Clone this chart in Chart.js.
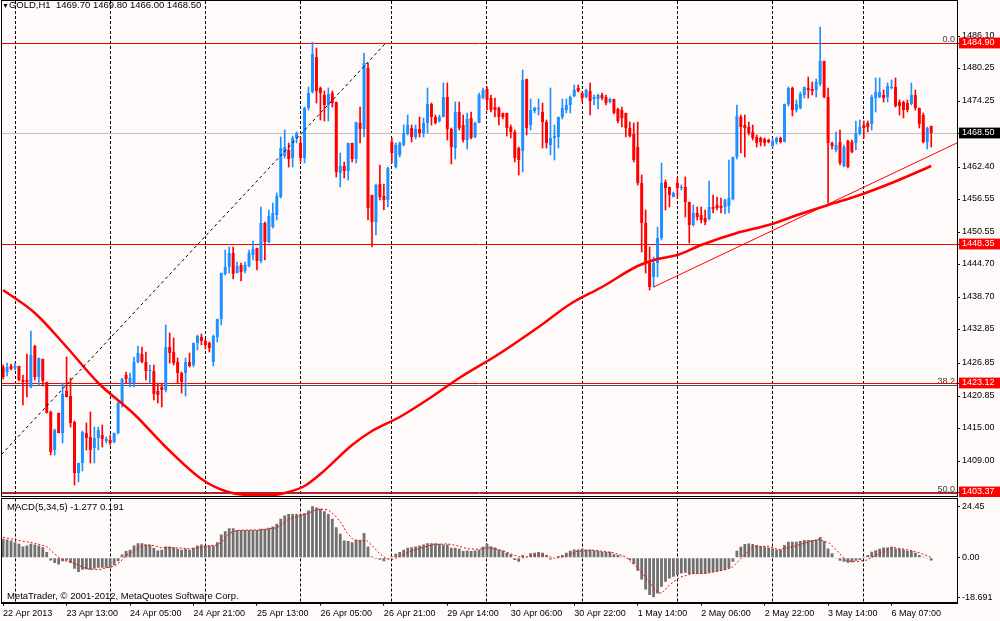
<!DOCTYPE html>
<html>
<head>
<meta charset="utf-8">
<title>GOLD,H1</title>
<script src="https://cdn.jsdelivr.net/npm/chart.js@4.4.1/dist/chart.umd.min.js"></script>
<style>
  html, body { margin: 0; padding: 0; background: #fffafa; }
  #wrap { position: relative; width: 1000px; height: 621px; overflow: hidden; background: #fffafa;
          font-family: 'Liberation Sans', Arial, sans-serif; font-size: 9.5px; color: #000; }
  #mainBox { position: absolute; left: 0; top: 0; width: 1000px; height: 497px; }
  #macdBox { position: absolute; left: 0; top: 497px; width: 1000px; height: 124px; }
  .lbl { position: absolute; white-space: nowrap; line-height: 10px; }
</style>
</head>
<body>
<div id="wrap">
  <div id="mainBox"><canvas id="mainChart"></canvas></div>
  <div id="macdBox"><canvas id="macdChart"></canvas></div>
  <div class="lbl" style="left:2px;top:0px;"><span style="font-size:7px">&#9660;</span>GOLD,H1&nbsp; 1469.70 1469.80 1466.00 1468.50</div>
  <div class="lbl" style="left:7px;top:502px;">MACD(5,34,5) -1.277 0.191</div>
  <div class="lbl" style="left:7px;top:591px;">MetaTrader, &copy; 2001-2012, MetaQuotes Software Corp.</div>
</div>
<script>
// hourly candles, bar 0 = 22 Apr 21:00
const opens = [
  1425.98,1425.20,1426.23,1425.80,1426.23,1423.69,1423.60,1422.47,1429.90,1424.29,
  1427.44,1423.38,1417.94,1410.98,1417.63,1414.13,1421.75,1420.78,1416.12,1406.87,
  1408.56,1414.13,1413.28,1411.28,1413.10,1413.70,1412.68,1412.80,1412.49,1414.01,
  1419.45,1424.59,1423.20,1423.08,1427.01,1428.40,1427.01,1425.38,1425.38,1421.75,
  1422.47,1421.87,1429.61,1428.83,1427.01,1425.02,1424.89,1427.01,1426.41,1430.34,
  1431.42,1430.75,1430.33,1427.00,1431.54,1434.69,1442.92,1444.12,1446.79,1443.16,
  1444.55,1443.52,1444.37,1446.36,1447.57,1445.33,1452.23,1448.78,1451.51,1453.62,
  1456.95,1464.33,1465.42,1463.91,1467.54,1466.63,1463.91,1472.98,1476.01,1482.24,
  1476.61,1475.40,1473.59,1475.70,1474.19,1461.31,1462.52,1461.67,1466.63,1463.73,
  1470.26,1469.17,1480.24,1457.25,1452.41,1459.20,1457.10,1456.35,1466.94,1462.40,
  1464.52,1466.33,1468.33,1469.36,1467.72,1469.18,1468.57,1470.39,1473.77,1471.47,
  1470.75,1471.47,1475.10,1469.18,1465.73,1472.38,1469.96,1467.24,1471.17,1467.72,
  1470.39,1474.80,1476.44,1474.80,1473.29,1472.99,1472.08,1472.08,1469.66,1468.75,
  1465.73,1465.30,1478.25,1469.96,1472.56,1472.81,1472.38,1470.57,1466.33,1467.54,
  1467.72,1471.35,1472.69,1473.59,1475.22,1476.62,1475.71,1474.98,1476.19,1474.62,
  1474.62,1475.41,1474.98,1474.20,1474.62,1472.81,1472.69,1472.08,1469.36,1468.33,
  1465.91,1459.50,1452.12,1444.86,1442.43,1444.86,1449.39,1459.68,1458.77,1456.96,
  1459.37,1458.47,1458.77,1456.05,1451.81,1454.05,1453.63,1453.02,1452.84,1455.14,
  1455.44,1455.26,1455.14,1455.26,1456.47,1464.22,1471.47,1469.96,1469.66,1468.75,
  1467.72,1467.54,1467.36,1467.24,1466.21,1466.82,1467.54,1466.94,1473.72,1476.74,
  1472.69,1473.11,1475.41,1476.74,1476.50,1476.32,1477.35,1481.58,1475.11,1466.64,
  1465.43,1466.82,1462.58,1467.06,1466.82,1466.64,1468.27,1469.96,1470.27,1470.09,
  1474.93,1475.11,1475.41,1475.11,1476.74,1476.92,1474.08,1474.08,1473.90,1473.72,
  1475.41,1473.00,1471.78,1466.94,1469.70
];
const highs = [
  1426.40,1426.83,1426.60,1426.83,1426.30,1424.59,1428.40,1432.64,1430.04,1427.70,
  1427.50,1423.40,1418.00,1414.70,1417.70,1423.08,1427.92,1423.99,1416.20,1408.60,
  1414.40,1415.82,1417.94,1415.21,1415.21,1415.52,1413.40,1413.70,1414.10,1419.60,
  1423.99,1425.20,1424.89,1427.92,1429.86,1429.74,1428.83,1426.41,1426.41,1423.08,
  1423.08,1433.67,1432.15,1431.25,1427.62,1425.20,1427.62,1428.52,1430.34,1431.85,
  1432.02,1431.20,1430.60,1431.80,1434.80,1443.16,1447.27,1447.88,1447.88,1445.15,
  1444.85,1445.15,1447.27,1448.96,1447.60,1455.13,1452.30,1454.53,1455.74,1457.56,
  1467.84,1469.05,1466.63,1467.96,1468.75,1467.84,1473.29,1476.92,1485.08,1483.87,
  1476.92,1476.19,1476.61,1476.19,1474.20,1464.82,1463.30,1466.75,1466.75,1470.56,
  1473.29,1482.97,1481.15,1457.30,1459.25,1462.70,1459.25,1462.39,1467.54,1466.64,
  1466.94,1469.96,1471.78,1469.96,1469.96,1471.35,1471.17,1476.62,1473.89,1471.78,
  1471.78,1477.65,1477.65,1469.36,1474.20,1474.20,1471.78,1472.08,1472.38,1470.57,
  1475.71,1476.62,1476.92,1475.41,1474.80,1473.29,1472.20,1472.20,1469.96,1469.06,
  1465.91,1479.95,1478.25,1474.62,1473.29,1474.62,1474.02,1470.87,1476.62,1469.96,
  1471.35,1474.62,1474.62,1475.22,1477.22,1477.22,1476.00,1476.44,1477.65,1475.41,
  1475.59,1475.71,1475.41,1474.80,1474.62,1472.99,1473.29,1472.08,1470.57,1470.27,
  1470.57,1460.89,1454.54,1447.88,1446.06,1451.51,1463.13,1459.98,1458.77,1457.86,
  1460.28,1459.07,1460.46,1456.05,1455.44,1455.14,1455.14,1454.54,1459.86,1457.26,
  1456.96,1456.65,1456.47,1463.61,1464.22,1473.59,1471.78,1471.78,1470.57,1469.96,
  1468.15,1467.72,1467.54,1467.36,1467.54,1467.85,1467.85,1473.72,1476.92,1476.92,
  1474.50,1475.89,1476.92,1478.74,1477.83,1478.31,1487.81,1481.58,1476.74,1466.94,
  1468.76,1469.06,1466.34,1467.24,1467.24,1470.69,1470.87,1470.69,1470.69,1475.41,
  1478.56,1478.44,1476.32,1477.53,1478.13,1478.56,1474.50,1474.32,1474.50,1477.53,
  1476.32,1473.00,1472.08,1469.66,1469.80
];
const lows = [
  1423.90,1424.41,1425.50,1425.50,1423.50,1419.15,1420.66,1422.30,1423.69,1422.78,
  1422.60,1417.63,1410.07,1410.07,1414.00,1412.31,1420.60,1415.20,1404.63,1405.23,
  1407.23,1410.98,1408.56,1408.68,1410.98,1411.59,1412.19,1411.89,1412.31,1413.88,
  1418.85,1423.08,1422.47,1422.35,1426.71,1426.71,1423.69,1423.08,1420.06,1419.45,
  1418.85,1421.57,1426.71,1426.41,1423.20,1421.39,1420.78,1426.11,1426.11,1429.13,
  1430.03,1429.40,1428.80,1426.30,1430.60,1433.66,1442.74,1443.04,1441.95,1443.04,
  1441.70,1443.04,1444.25,1445.45,1443.64,1444.85,1445.45,1448.48,1451.20,1452.72,
  1456.65,1463.91,1462.39,1462.39,1466.63,1463.30,1463.12,1472.68,1475.70,1473.89,
  1470.87,1470.74,1470.74,1473.29,1460.58,1458.77,1460.28,1459.98,1463.30,1463.00,
  1466.63,1467.84,1452.72,1447.88,1449.99,1456.35,1454.50,1455.14,1463.00,1462.10,
  1464.22,1466.15,1468.15,1466.94,1467.36,1467.72,1467.72,1468.57,1469.96,1470.14,
  1470.57,1471.35,1467.24,1462.88,1463.73,1469.06,1466.94,1465.55,1467.36,1467.54,
  1470.27,1474.62,1472.69,1472.38,1471.47,1469.96,1471.00,1467.97,1467.54,1463.31,
  1460.89,1461.49,1468.15,1469.06,1472.08,1471.78,1465.73,1465.73,1464.52,1463.61,
  1465.73,1470.99,1472.08,1472.08,1474.98,1476.00,1474.20,1474.80,1471.78,1473.59,
  1472.81,1474.50,1473.59,1473.90,1471.96,1470.27,1469.66,1467.72,1467.72,1463.31,
  1459.07,1446.97,1443.04,1440.01,1440.62,1442.43,1449.09,1454.54,1455.14,1456.83,
  1456.65,1458.17,1453.33,1448.49,1451.63,1452.72,1452.12,1451.81,1452.72,1453.93,
  1454.54,1453.93,1453.81,1454.05,1456.35,1463.73,1464.94,1464.22,1468.15,1467.24,
  1466.03,1466.15,1466.15,1466.64,1465.85,1466.45,1466.64,1466.82,1473.47,1471.66,
  1472.38,1472.87,1474.80,1474.80,1475.41,1475.11,1477.10,1474.80,1455.75,1465.61,
  1465.13,1462.71,1462.40,1462.10,1464.82,1465.43,1468.15,1467.67,1468.76,1469.06,
  1472.39,1474.80,1474.08,1474.08,1476.50,1473.29,1471.78,1471.18,1472.39,1473.60,
  1472.69,1469.36,1466.64,1465.61,1466.00
];
const closes = [
  1424.17,1425.98,1425.74,1426.23,1423.69,1423.38,1423.30,1428.22,1424.17,1427.62,
  1423.50,1417.76,1410.68,1414.61,1414.13,1421.14,1420.66,1415.94,1406.87,1408.56,
  1414.31,1413.10,1410.98,1413.10,1414.61,1412.92,1412.92,1412.31,1414.01,1419.57,
  1423.81,1423.81,1423.99,1427.01,1428.52,1427.01,1425.38,1425.50,1421.14,1420.96,
  1421.87,1429.74,1428.52,1426.71,1424.89,1423.38,1427.01,1426.23,1430.34,1431.67,
  1430.81,1430.03,1429.42,1431.66,1434.69,1443.04,1444.12,1446.66,1442.92,1444.37,
  1443.34,1444.55,1446.79,1447.39,1445.33,1452.11,1448.78,1453.44,1454.05,1457.07,
  1465.72,1466.02,1463.73,1467.54,1468.44,1463.91,1472.98,1475.70,1482.84,1476.19,
  1475.70,1473.59,1475.58,1473.89,1461.49,1462.52,1461.67,1466.63,1463.73,1470.56,
  1469.17,1481.15,1454.83,1452.41,1459.07,1456.95,1456.35,1462.09,1464.82,1466.33,
  1466.64,1468.45,1469.96,1467.85,1469.24,1468.45,1470.39,1473.77,1471.47,1470.27,
  1471.47,1475.10,1469.18,1465.91,1472.38,1469.36,1467.24,1470.99,1467.54,1470.39,
  1475.41,1476.31,1474.50,1472.69,1472.69,1471.35,1471.35,1469.36,1468.75,1463.91,
  1463.61,1478.13,1469.36,1472.69,1472.99,1473.11,1470.57,1466.64,1467.54,1467.97,
  1471.35,1472.99,1473.59,1474.98,1476.31,1476.19,1474.80,1476.31,1474.38,1475.10,
  1475.41,1474.80,1473.89,1474.62,1472.20,1470.75,1471.17,1469.36,1467.97,1463.61,
  1459.37,1452.12,1444.86,1440.62,1444.86,1449.39,1459.37,1458.47,1457.26,1457.56,
  1458.47,1458.77,1456.05,1451.81,1454.05,1453.33,1452.72,1452.42,1455.14,1454.66,
  1454.84,1454.96,1456.35,1456.65,1464.22,1471.60,1469.66,1469.36,1468.57,1467.54,
  1466.76,1466.94,1466.76,1466.94,1467.06,1467.66,1466.82,1473.72,1476.74,1472.69,
  1473.72,1475.53,1476.92,1476.32,1476.10,1477.83,1481.58,1475.11,1466.64,1466.21,
  1466.34,1463.01,1466.03,1462.40,1465.00,1468.45,1469.66,1469.48,1469.66,1475.11,
  1475.89,1475.89,1474.80,1477.10,1476.92,1473.47,1473.47,1472.69,1472.69,1475.41,
  1473.00,1470.09,1466.94,1469.48,1468.50
];

// MACD(5,34,5) histogram, one value per bar
const macdHist = [
  9.0,8.7,8.2,7.4,6.6,5.4,5.8,6.6,6.3,5.8,
  5.0,2.7,-1.3,-2.5,-3.2,-1.6,-1.3,-2.5,-5.2,-6.8,
  -5.7,-5.4,-5.7,-5.2,-4.7,-4.7,-4.7,-4.7,-3.6,-1.6,
  1.6,3.2,3.8,5.8,6.9,6.9,6.3,6.2,4.7,3.5,
  3.8,5.4,5.4,5.0,4.3,3.8,4.3,3.8,4.7,5.8,
  6.3,5.8,5.8,5.8,7.4,11.0,12.6,14.0,14.0,13.2,
  13.2,13.2,13.2,13.2,13.2,13.7,13.7,14.2,14.8,16.1,
  18.5,20.0,20.8,20.8,20.8,20.5,21.1,22.4,24.45,23.8,
  23.2,22.1,20.8,18.5,14.5,11.4,8.2,7.9,7.4,8.5,
  8.5,11.7,5.4,0.6,-0.5,-0.9,-1.6,-0.5,0.6,1.9,
  2.7,3.8,4.7,5.0,5.4,5.8,6.3,6.9,6.9,6.9,
  6.6,6.3,6.3,4.7,4.7,4.3,3.2,3.5,3.2,3.5,
  3.8,5.2,6.8,5.5,4.9,3.9,3.3,2.4,1.7,-1.1,
  -1.9,1.3,0.5,2.1,2.4,2.7,2.4,1.3,-0.8,0.2,
  0.8,1.3,2.4,3.3,3.9,3.9,4.3,3.9,3.9,3.6,
  3.3,2.8,2.8,2.8,1.7,1.3,0.5,-0.3,-1.1,-3.0,
  -6.2,-10.3,-15.0,-17.6,-18.691,-16.9,-13.7,-11.4,-9.8,-9.0,
  -8.2,-7.4,-7.1,-7.7,-7.7,-7.7,-7.7,-7.4,-7.1,-6.8,
  -6.5,-6.3,-5.8,-5.0,-1.9,3.3,5.2,6.5,6.8,6.5,
  6.0,5.5,5.2,4.9,4.4,3.9,3.9,6.0,7.6,7.6,
  7.6,8.0,8.4,8.4,8.4,8.7,9.9,8.0,4.4,2.1,
  -0.3,-1.4,-1.9,-2.4,-2.1,-1.4,-1.1,0.5,1.3,2.8,
  3.6,4.3,4.9,4.9,5.2,4.4,4.3,3.9,3.3,3.3,
  2.4,1.3,0.5,-0.3,-1.277
];

// MACD signal line, read at these bars
const signalIdx = [0,4,8,11,13,15,17,19,21,24,26,28,29.5,31,33,34.5,36,38,40,44,
  47,50,52,54,55.5,57,59,62,65,67,69,70.5,72,75,76.5,78.5,80,82,83.7,85.4,
  86.6,88.3,90,91.7,93,95,96.7,98,99.6,101.3,103.4,106,108.5,112,114.3,117,120,122,124,126.5,
  128.6,131,134.5,136.5,139,142,144.6,148.8,153.8,157,159.7,162,164.8,166,168,170.6,174,177.4,182.4,184,
  186.5,189,193,195.6,199,204,205.9,208.4,210.9,212.6,215,217.7,221,224.4,227.8,231,234];
const signalVal = [9.8,8.2,6.9,5.3,1.8,-1.2,-2.0,-3.5,-5.2,-5.7,-4.8,-4.0,-2.0,1.0,3.5,5.0,6.2,5.8,4.7,4.7,
  4.3,4.8,5.8,6.0,8.2,11.5,13.0,13.2,13.2,13.7,14.2,16.1,18.3,20.0,20.8,22.4,23.2,22.7,20.0,16.1,
  12.1,8.5,7.9,8.2,5.8,1.9,-0.5,-0.9,0.3,1.9,3.5,5.0,6.3,6.6,5.8,4.3,4.0,4.8,4.3,3.0,
  1.3,0.0,1.3,1.4,-0.3,0.8,3.0,3.6,2.4,0.5,-4.3,-9.3,-16.0,-16.9,-12.9,-9.3,-7.4,-7.4,-5.5,-4.3,
  0.5,5.2,5.5,3.9,5.2,8.0,8.7,6.8,2.1,-1.4,-1.9,-1.1,2.1,4.9,3.9,2.4,0.191];

// moving average (thick red), read at these bars
const maIdx = [0,8,16,24,33,41,50,56,62,68,72,76,80,88,93,100,108,115,125,135,
  143,151,160,165,170,176,185,193,201,208,216,224,234];
const maVal = [1440.1,1435.9,1429.7,1423.1,1417.6,1411.6,1405.8,1403.5,1402.9,1402.9,
  1403.3,1404.5,1406.6,1411.8,1414.4,1417.0,1420.6,1424.0,1428.4,1433.3,
  1437.4,1440.6,1444.4,1445.6,1446.4,1448.2,1450.4,1451.8,1453.8,1455.5,
  1457.3,1459.4,1462.5];

// drawn objects
const trendIdx = [164, 241];
const trendVal = [1440.6, 1466.9];
const fiboIdx = [-115, 96.5];
const fiboVal = [1321.84, 1484.90];
const fiboLevelName = ['0.0', '38.2', '50.0'];
const fiboLevelPrice = [1484.90, 1422.75, 1403.10];
const redLevels = [1484.90, 1448.35, 1423.12, 1403.37];
const bidPrice = 1468.50;

// axes
const priceTicks = [1486.10, 1480.25, 1474.25, 1462.40, 1456.55, 1450.55, 1444.70,
  1438.70, 1432.85, 1426.85, 1420.85, 1415.00, 1409.00];
const macdTicks = [24.45, 0, -18.691];
const macdTickText = ['24.45', '0.00', '-18.691'];
const timeIdx = [0, 16, 32, 48, 64, 80, 96, 112, 128, 144, 160, 176, 192, 208, 224];
const timeText = ['22 Apr 2013', '23 Apr 13:00', '24 Apr 05:00', '24 Apr 21:00', '25 Apr 13:00',
  '26 Apr 05:00', '26 Apr 21:00', '29 Apr 14:00', '30 Apr 06:00', '30 Apr 22:00',
  '1 May 14:00', '2 May 06:00', '2 May 22:00', '3 May 14:00', '6 May 07:00'];
const dayStartIdx = [3, 27, 51, 75, 98, 122, 146, 170, 194, 217];

const BULL = '#1e90ff';
const BEAR = '#ff0000';
const X_MIN = -0.28, X_MAX = 240.5;
const NONE = 'rgba(0,0,0,0)';

Chart.defaults.font.family = "'Liberation Sans', Arial, sans-serif";
Chart.defaults.font.size = 9;
Chart.defaults.color = '#000';

const pts = (xs, ys) => xs.map((x, k) => ({ x: x, y: ys[k] }));
const tickVal = ctx => (ctx && ctx.tick) ? ctx.tick.value : NaN;
const candleColor = ctx => {
  if (ctx.type !== 'data') return BULL;
  const i = ctx.dataIndex;
  return closes[i] >= opens[i] ? BULL : BEAR;
};
// fixed axis size, and no extra room for overhanging labels
const fixSize = (w, h) => s => {
  if (w !== null) s.width = w;
  if (h !== null) s.height = h;
  s.paddingTop = 0; s.paddingBottom = 0; s.paddingLeft = 0; s.paddingRight = 0;
};

const isRed = v => redLevels.some(r => Math.abs(r - v) < 0.001);
const isBid = v => Math.abs(v - bidPrice) < 0.001;

// black frame round the plot area
const framePlugin = {
  id: 'frame',
  afterDatasetsDraw(chart) {
    const a = chart.chartArea, c = chart.ctx;
    c.save();
    c.strokeStyle = '#000';
    c.lineWidth = 1;
    c.strokeRect(Math.round(a.left) - 0.5, Math.round(a.top) - 0.5,
      Math.round(a.right - a.left) + 1, Math.round(a.bottom - a.top) + 1);
    c.restore();
  }
};

// fibonacci levels and their captions
const fiboPlugin = {
  id: 'fibo',
  beforeDraw(chart) {
    const a = chart.chartArea, c = chart.ctx, y = chart.scales.y;
    c.save();
    c.font = "9px 'Liberation Sans', Arial, sans-serif";
    c.textAlign = 'right';
    c.textBaseline = 'alphabetic';
    fiboLevelPrice.forEach((p, k) => {
      const py = Math.round(y.getPixelForValue(p)) + 0.5;
      if (!isRed(p)) {
        c.strokeStyle = '#505050';
        c.lineWidth = 1;
        c.beginPath();
        c.moveTo(a.left, py);
        c.lineTo(a.right, py);
        c.stroke();
      }
      c.fillStyle = '#404040';
      c.fillText(fiboLevelName[k], a.right - 2, py - 2);
    });
    c.restore();
  }
};

new Chart(document.getElementById('mainChart'), {
  type: 'bar',
  data: {
    datasets: [
      { type: 'line', data: pts(trendIdx, trendVal), borderColor: '#ff0000', borderWidth: 1, pointRadius: 0 },
      { type: 'line', data: pts(fiboIdx, fiboVal), borderColor: '#000', borderWidth: 1, borderDash: [3, 3], pointRadius: 0 },
      { type: 'line', data: pts(maIdx, maVal), borderColor: '#ff0000', borderWidth: 2.5, pointRadius: 0,
        cubicInterpolationMode: 'monotone' },
      { data: closes.map((c, i) => ({ x: i, y: [opens[i], c] })), backgroundColor: candleColor,
        borderWidth: 0, barPercentage: 0.75, categoryPercentage: 1, grouped: false, minBarLength: 1 },
      { data: closes.map((c, i) => ({ x: i, y: [lows[i], highs[i]] })), backgroundColor: candleColor,
        borderWidth: 0, barThickness: 1, grouped: false }
    ]
  },
  options: {
    responsive: true,
    maintainAspectRatio: false,
    animation: false,
    layout: { padding: { left: 2, top: 1, bottom: 1, right: 0 } },
    plugins: { legend: { display: false }, tooltip: { enabled: false } },
    scales: {
      x: {
        type: 'linear', min: X_MIN, max: X_MAX, offset: false,
        afterBuildTicks: s => { s.ticks = dayStartIdx.map(v => ({ value: v })); },
        afterFit: fixSize(null, 0),
        ticks: { display: false },
        grid: { offset: false, drawTicks: false, color: '#000', lineWidth: 1 },
        border: { display: false, dash: [3, 2] }
      },
      y: {
        position: 'right', min: 1402.63, max: 1492.47, alignToPixels: true,
        afterBuildTicks: s => {
          s.ticks = priceTicks.concat([bidPrice], redLevels).map(v => ({ value: v }));
        },
        afterFit: fixSize(43, null),
        ticks: {
          autoSkip: false, padding: 2,
          callback: v => v.toFixed(2),
          color: ctx => (isRed(tickVal(ctx)) || isBid(tickVal(ctx))) ? '#fff' : '#000',
          showLabelBackdrop: ctx => isRed(tickVal(ctx)) || isBid(tickVal(ctx)),
          backdropColor: ctx => isBid(tickVal(ctx)) ? '#000' : '#ff0000',
          backdropPadding: { left: 3, right: 8, top: 0, bottom: 0 }
        },
        grid: {
          tickLength: 3, tickColor: '#000', lineWidth: 1,
          color: ctx => isRed(tickVal(ctx)) ? '#ff0000' : (isBid(tickVal(ctx)) ? '#c0c0c0' : NONE)
        },
        border: { display: true, color: '#000' }
      }
    }
  },
  plugins: [fiboPlugin, framePlugin]
});

new Chart(document.getElementById('macdChart'), {
  type: 'bar',
  data: {
    datasets: [
      { type: 'line', data: pts(signalIdx, signalVal), borderColor: '#ff0000', borderWidth: 1,
        borderDash: [2, 2], pointRadius: 0 },
      { data: macdHist.map((v, i) => ({ x: i, y: v })), backgroundColor: '#707070', borderWidth: 0,
        barPercentage: 0.7, categoryPercentage: 1 }
    ]
  },
  options: {
    responsive: true,
    maintainAspectRatio: false,
    animation: false,
    layout: { padding: { left: 2, top: 1.5, bottom: 0, right: 0 } },
    plugins: { legend: { display: false }, tooltip: { enabled: false } },
    scales: {
      x: {
        type: 'linear', min: X_MIN, max: X_MAX, offset: false,
        afterBuildTicks: s => {
          s.ticks = dayStartIdx.concat(timeIdx).sort((a, b) => a - b).map(v => ({ value: v }));
        },
        afterFit: fixSize(null, 18.3),
        ticks: {
          autoSkip: false, maxRotation: 0, minRotation: 0, align: 'start', padding: 2,
          callback: v => { const k = timeIdx.indexOf(v); return k >= 0 ? timeText[k] : ''; }
        },
        grid: {
          offset: false, tickLength: 3, lineWidth: 1,
          color: ctx => dayStartIdx.includes(tickVal(ctx)) ? '#000' : NONE,
          tickColor: ctx => timeIdx.includes(tickVal(ctx)) ? '#000' : NONE
        },
        border: { display: true, color: '#000', dash: [3, 2] }
      },
      y: {
        position: 'right', min: -21.3, max: 28.1,
        afterBuildTicks: s => { s.ticks = macdTicks.map(v => ({ value: v })); },
        afterFit: fixSize(43, null),
        ticks: {
          autoSkip: false, padding: 2,
          callback: v => { const k = macdTicks.indexOf(v); return k >= 0 ? macdTickText[k] : ''; }
        },
        grid: { tickLength: 3, tickColor: '#000', color: NONE },
        border: { display: true, color: '#000' }
      }
    }
  },
  plugins: [framePlugin]
});
</script>
</body>
</html>
